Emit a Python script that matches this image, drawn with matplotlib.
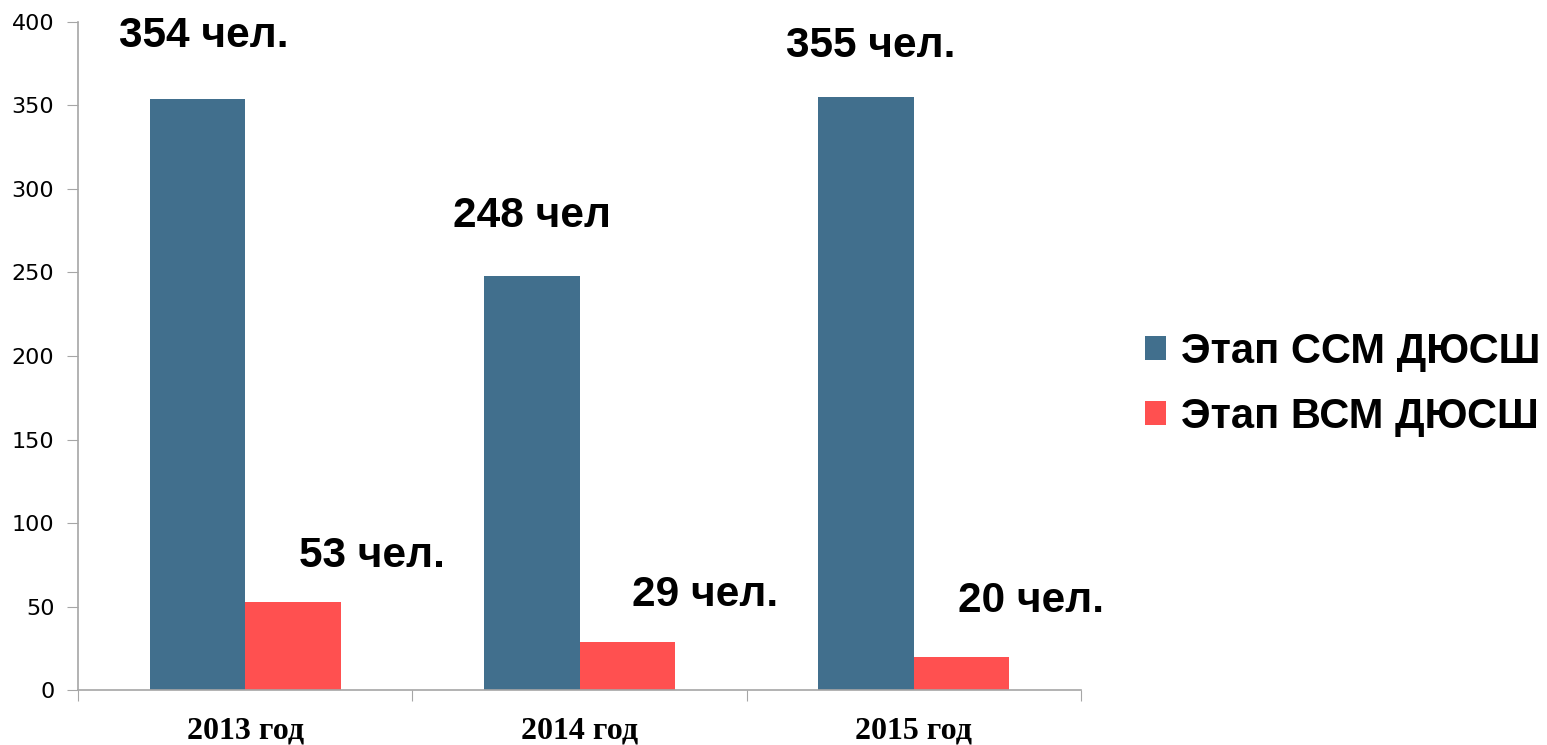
import matplotlib.pyplot as plt
import numpy as np

years = ['2013 год', '2014 год', '2015 год']
ssm = [354, 248, 355]
vsm = [53, 29, 20]
ssm_labels = ['354 чел.', '248 чел', '355 чел.']
vsm_labels = ['53 чел.', '29 чел.', '20 чел.']
series_names = ['Этап ССМ ДЮСШ', 'Этап ВСМ ДЮСШ']

blue = '#416F8D'
red = '#FF5050'
grey = '#A6A6A6'

fig = plt.figure(figsize=(15.47, 7.45), dpi=100)
ax = fig.add_axes([0.0504, 0.0738, 0.6484, 0.8967])

x = np.arange(len(years))
w = 0.286
b1 = ax.bar(x - w / 2, ssm, w, color=blue, label=series_names[0])
b2 = ax.bar(x + w / 2, vsm, w, color=red, label=series_names[1])

ax.set_xlim(-0.5, 2.5)
ax.set_ylim(0, 400)
ax.set_yticks(range(0, 401, 50))

# value labels, placed by hand like in the original slide
ssm_off = [(6, 63), (0, 60), (5, 51)]
vsm_off = [(79, 46), (78, 47), (69, 56)]
for i in range(len(years)):
    ax.annotate(ssm_labels[i], (x[i] - w / 2, ssm[i]), xytext=ssm_off[i],
                textcoords='offset pixels', ha='center', va='center',
                fontsize=30.5, fontweight='bold', family='Liberation Sans')
    ax.annotate(vsm_labels[i], (x[i] + w / 2, vsm[i]), xytext=vsm_off[i],
                textcoords='offset pixels', ha='center', va='center',
                fontsize=30.5, fontweight='bold', family='Liberation Sans')

# x ticks at category borders, labels at centres
ax.set_xticks([-0.5, 0.5, 1.5, 2.5])
ax.set_xticklabels([])
ax.set_xticks(x, minor=True)
ax.set_xticklabels(years, minor=True, fontsize=23, fontweight='bold',
                   family='Liberation Serif')
ax.tick_params(axis='x', which='minor', length=0, pad=19)
ax.tick_params(axis='x', which='major', length=8, color=grey, direction='out')
ax.tick_params(axis='y', length=8, color=grey, labelsize=16, pad=9)

for s in ['top', 'right']:
    ax.spines[s].set_visible(False)
ax.spines['left'].set_color(grey)
ax.spines['bottom'].set_color(grey)
ax.spines['left'].set_linewidth(1.2)
ax.spines['bottom'].set_linewidth(1.2)

fig.legend(handles=[b1, b2], loc='center left', bbox_to_anchor=(0.740, 0.484),
           frameon=False, prop={'family': 'Liberation Sans', 'weight': 'bold', 'size': 30},
           handlelength=0.52, handleheight=0.52, handletextpad=0.35, labelspacing=0.6,
           borderaxespad=0, borderpad=0)

fig.savefig('out.png', dpi=100)
